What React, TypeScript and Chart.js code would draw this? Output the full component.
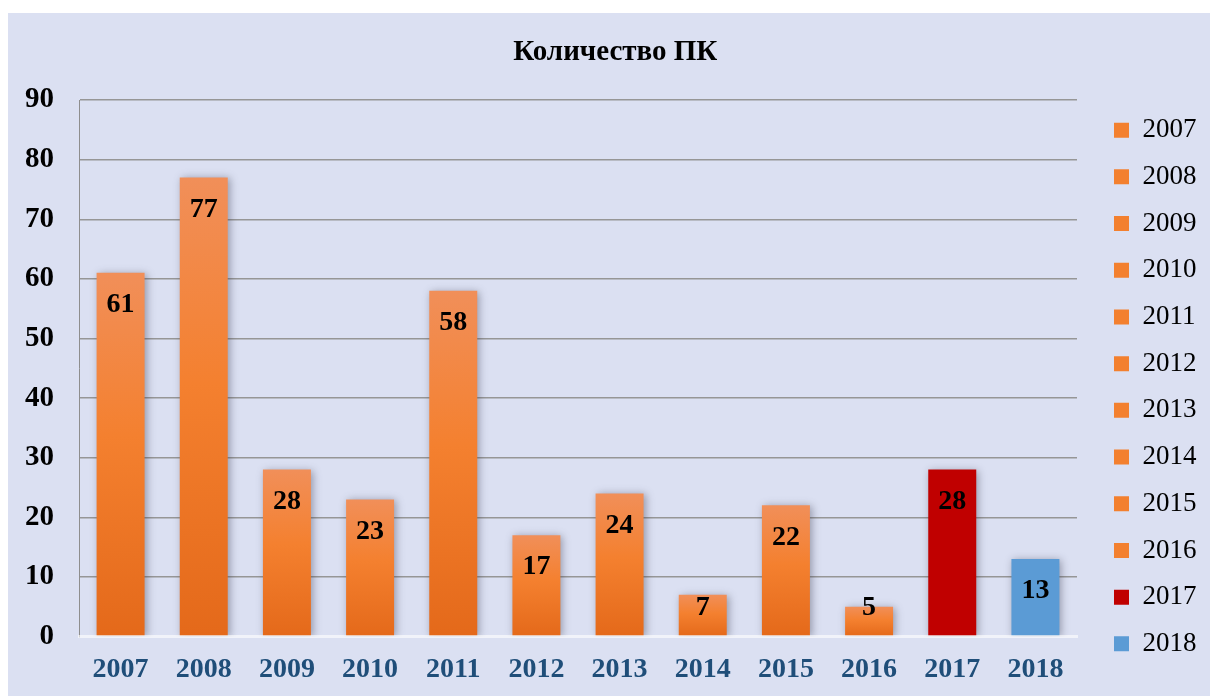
import React, { useEffect, useRef } from "react";
import { Chart, registerables } from "chart.js";

Chart.register(...registerables);

const chartTitle = "Количество ПК";
const categories = ["2007", "2008", "2009", "2010", "2011", "2012", "2013", "2014", "2015", "2016", "2017", "2018"];
const values = [61, 77, 28, 23, 58, 17, 24, 7, 22, 5, 28, 13];
const yMin = 0;
const yMax = 90;
const yStep = 10;

const ORANGE = "#F3802F";
const RED = "#C00000";
const BLUE = "#5B9BD5";
const barColors = [ORANGE, ORANGE, ORANGE, ORANGE, ORANGE, ORANGE, ORANGE, ORANGE, ORANGE, ORANGE, RED, BLUE];
const SERIF = "'Liberation Serif', 'Times New Roman', serif";

export default function App() {
  const ref = useRef<HTMLCanvasElement | null>(null);

  useEffect(() => {
    const canvas = ref.current;
    if (!canvas) return;

    const shadowAndLabels = {
      id: "shadowAndLabels",
      beforeDatasetsDraw(chart: any) {
        const ctx = chart.ctx;
        ctx.save();
        ctx.shadowColor = "rgba(40,40,60,0.4)";
        ctx.shadowBlur = 8;
        ctx.shadowOffsetX = 2;
        ctx.shadowOffsetY = 1;
      },
      afterDatasetsDraw(chart: any) {
        const ctx = chart.ctx;
        ctx.restore();
        const meta = chart.getDatasetMeta(0);
        ctx.save();
        ctx.font = `bold 28px ${SERIF}`;
        ctx.fillStyle = "#000000";
        ctx.textAlign = "center";
        ctx.textBaseline = "middle";
        meta.data.forEach((bar: any, i: number) => {
          const p = bar.getProps(["x", "y", "base"], true);
          const ly = Math.min(p.y + 32, p.base - 28);
          ctx.fillText(String(values[i]), p.x, ly);
        });
        ctx.restore();
      },
    };

    const chart = new Chart(canvas, {
      type: "bar",
      data: {
        labels: categories,
        datasets: [
          {
            data: values,
            backgroundColor: (c: any) => {
              const i = c.dataIndex;
              if (i === undefined) return ORANGE;
              if (barColors[i] !== ORANGE) return barColors[i];
              const chartRef = c.chart;
              const ys = chartRef.scales && chartRef.scales.y;
              if (!chartRef.chartArea || !ys) return ORANGE;
              const top = ys.getPixelForValue(values[i]);
              const base = ys.getPixelForValue(0);
              if (!isFinite(top) || !isFinite(base) || base - top < 1) return ORANGE;
              const g = chartRef.ctx.createLinearGradient(0, top, 0, base);
              g.addColorStop(0, "#F18F59");
              g.addColorStop(0.45, "#F4802F");
              g.addColorStop(1, "#E4691A");
              return g;
            },
            borderWidth: 0,
            barPercentage: 0.577,
            categoryPercentage: 1,
          },
        ],
      },
      options: {
        responsive: false,
        animation: false,
        layout: { padding: { left: 16, right: 3.5, top: 0, bottom: 0 } },
        plugins: {
          title: {
            display: true,
            text: chartTitle,
            color: "#000000",
            font: { family: SERIF, size: 29, weight: "bold" },
            padding: { top: 22.4, bottom: 29.8 },
          },
          legend: {
            display: true,
            position: "right",
            align: "center",
            onClick: () => {},
            labels: {
              boxWidth: 15,
              boxHeight: 15,
              padding: 19.7,
              color: "#000000",
              font: { family: SERIF, size: 27, weight: "normal" },
              generateLabels: () =>
                categories.map((c, i) => ({
                  text: c,
                  fillStyle: barColors[i],
                  strokeStyle: barColors[i],
                  lineWidth: 0,
                  hidden: false,
                  index: i,
                  datasetIndex: 0,
                })),
            },
          },
          tooltip: { enabled: false },
        },
        scales: {
          x: {
            type: "category",
            offset: true,
            grid: { display: false, drawTicks: false },
            border: { display: true, color: "rgba(255,255,255,0.6)", width: 3, z: 1 },
            ticks: {
              color: "#1F4E79",
              font: { family: SERIF, size: 28, weight: "bold" },
              padding: 16,
              maxRotation: 0,
              autoSkip: false,
            },
            afterFit: (s: any) => {
              s.height = 124.5;
            },
          },
          y: {
            type: "linear",
            position: "left",
            min: yMin,
            max: yMax,
            grid: {
              drawTicks: false,
              color: (c: any) => (c.tick && c.tick.value === 0 ? "rgba(0,0,0,0)" : "#969696"),
              lineWidth: 1.4,
            },
            border: { display: true, color: "#8E8E8E", width: 1 },
            ticks: {
              stepSize: yStep,
              color: "#000000",
              font: { family: SERIF, size: 29, weight: "bold" },
              padding: 25,
            },
            afterFit: (s: any) => {
              s.width = 55;
            },
          },
          yR: {
            type: "linear",
            position: "right",
            display: true,
            grid: { display: false, drawTicks: false },
            border: { display: false },
            ticks: { display: false },
            afterFit: (s: any) => {
              s.width = 17.3;
            },
          },
        },
      },
      plugins: [shadowAndLabels],
    } as any);

    return () => chart.destroy();
  }, []);

  return (
    <div
      style={{
        position: "fixed",
        left: 8,
        top: 13,
        width: 1202,
        height: 748,
        background: "#DBE0F2",
      }}
    >
      <canvas ref={ref} width={1202} height={748} style={{ display: "block", width: 1202, height: 748 }} />
    </div>
  );
}
